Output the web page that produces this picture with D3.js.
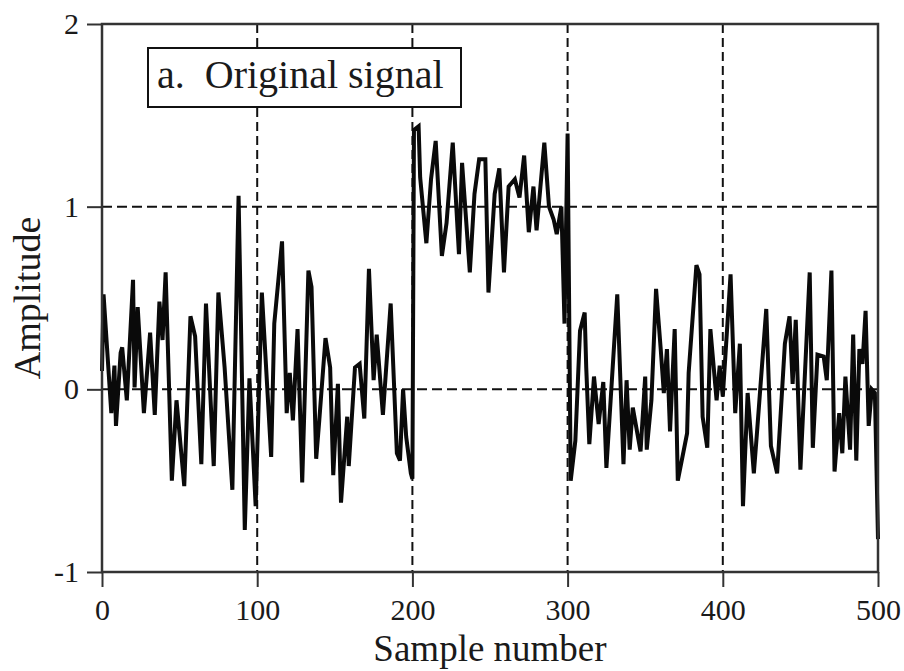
<!DOCTYPE html>
<html>
<head>
<meta charset="utf-8">
<script src="https://cdn.jsdelivr.net/npm/d3@7"></script>
<style>
  body { margin: 0; background: #fff; }
  svg { display: block; }
  text { font-family: "Liberation Serif", "Times New Roman", serif; fill: #1a1a1a; }
</style>
</head>
<body>
<div id="chart"></div>
<script>
// Signal vertices (sample number, amplitude)
const sampleIdx = [
    0, 1, 6, 8, 9, 12, 13, 16, 20, 21, 23, 27, 31, 34, 37, 39, 41, 45, 48, 53,
    57, 60, 64, 67, 72, 75, 79, 84, 88, 92, 95, 99, 103, 109, 111, 116, 119, 121, 123, 126,
    129, 133, 135, 138, 140, 144, 147, 149, 152, 154, 158, 159, 163, 166, 169, 172, 175, 177, 181, 186,
    190, 192, 194, 196, 199, 200, 201, 204, 205, 209, 212, 215, 219, 222, 226, 230, 232, 237, 240, 243,
    247, 249, 253, 256, 259, 262, 266, 269, 272, 275, 278, 280, 285, 288, 291, 293, 296, 298, 300, 302,
    305, 308, 311, 312, 314, 317, 320, 323, 325, 332, 336, 338, 340, 342, 347, 350, 351, 354, 357, 360,
    362, 364, 366, 369, 371, 377, 378, 383, 385, 387, 390, 392, 396, 398, 400, 405, 408, 411, 413, 416,
    420, 422, 428, 431, 435, 440, 443, 445, 447, 450, 456, 458, 461, 465, 467, 470, 472, 475, 477, 479,
    482, 484, 486, 488, 490, 492, 494, 496, 498, 500
];
const amplitude = [
    0.10, 0.52, -0.13, 0.13, -0.20, 0.20, 0.23, -0.06, 0.60, 0.01, 0.45, -0.13, 0.31, -0.14, 0.48, 0.27, 0.64, -0.50, -0.06, -0.53,
    0.40, 0.29, -0.41, 0.47, -0.42, 0.53, 0.12, -0.55, 1.06, -0.77, 0.06, -0.64, 0.53, -0.37, 0.36, 0.81, -0.13, 0.09, -0.17, 0.33,
    -0.51, 0.65, 0.56, -0.38, -0.17, 0.28, 0.12, -0.47, 0.03, -0.62, -0.15, -0.42, 0.12, 0.14, -0.16, 0.66, 0.05, 0.30, -0.14, 0.47,
    -0.35, -0.39, 0.00, -0.26, -0.46, -0.49, 1.42, 1.44, 1.16, 0.80, 1.15, 1.36, 0.73, 0.91, 1.35, 0.74, 1.24, 0.64, 1.07, 1.26,
    1.26, 0.53, 1.07, 1.21, 0.64, 1.11, 1.15, 1.05, 1.28, 0.86, 1.11, 0.87, 1.35, 1.00, 0.93, 0.85, 1.00, 0.36, 1.40, -0.50,
    -0.28, 0.32, 0.42, 0.12, -0.30, 0.07, -0.19, 0.04, -0.43, 0.52, -0.41, 0.05, -0.33, -0.10, -0.34, 0.07, -0.33, -0.06, 0.55, 0.22,
    -0.02, 0.22, -0.23, 0.33, -0.50, -0.24, 0.09, 0.68, 0.63, -0.15, -0.32, 0.33, -0.06, 0.13, -0.04, 0.63, -0.13, 0.25, -0.64, -0.02,
    -0.46, -0.24, 0.44, -0.31, -0.46, 0.25, 0.40, 0.03, 0.38, -0.44, 0.64, -0.32, 0.19, 0.18, 0.05, 0.65, -0.45, -0.13, -0.35, 0.07,
    -0.33, 0.30, -0.39, 0.22, 0.14, 0.43, -0.20, 0.00, -0.02, -0.82
];

const xTicks = [0, 100, 200, 300, 400, 500];
const yTicks = [-1, 0, 1, 2];
const xGrid = [100, 200, 300, 400];
const yGrid = [0, 1];
const titleText = 'a.  Original signal';

const W = 904, H = 671;

const svg = d3.select('#chart')
    .append('svg')
    .attr('width', W)
    .attr('height', H);

const x = d3.scaleLinear().domain([0, 500]).range([102, 878]);
const y = d3.scaleLinear().domain([-1, 2]).range([572, 24]);

// Dashed grid
svg.append('g')
    .selectAll('line')
    .data(xGrid)
    .enter()
    .append('line')
    .attr('x1', d => x(d)).attr('x2', d => x(d))
    .attr('y1', y(2)).attr('y2', y(-1))
    .attr('stroke', '#111')
    .attr('stroke-width', 2)
    .attr('stroke-dasharray', '9,5');

svg.append('g')
    .selectAll('line')
    .data(yGrid)
    .enter()
    .append('line')
    .attr('x1', x(0)).attr('x2', x(500))
    .attr('y1', d => y(d)).attr('y2', d => y(d))
    .attr('stroke', '#111')
    .attr('stroke-width', 2)
    .attr('stroke-dasharray', '10,5');

// Signal
const points = sampleIdx.map((s, i) => [s, amplitude[i]]);
const line = d3.line()
    .x(d => x(d[0]))
    .y(d => y(d[1]));

svg.append('path')
    .datum(points)
    .attr('d', line)
    .attr('fill', 'none')
    .attr('stroke', '#0a0a0a')
    .attr('stroke-width', 4)
    .attr('stroke-linejoin', 'miter')
    .attr('stroke-miterlimit', 3);

// Axes
const xAxis = d3.axisBottom(x)
    .tickValues(xTicks)
    .tickSize(15)
    .tickSizeOuter(0)
    .tickPadding(12)
    .tickFormat(d => String(d));

const yAxis = d3.axisLeft(y)
    .tickValues(yTicks)
    .tickSize(15)
    .tickSizeOuter(0)
    .tickPadding(8)
    .tickFormat(d => String(d));

const gx = svg.append('g')
    .attr('transform', `translate(0,${y(-1)})`)
    .call(xAxis);

const gy = svg.append('g')
    .attr('transform', `translate(${x(0)},0)`)
    .call(yAxis);

[gx, gy].forEach(g => {
    g.select('.domain').remove();
    g.selectAll('.tick line').attr('stroke', '#333').attr('stroke-width', 2);
    g.selectAll('.tick text')
        .attr('fill', '#1a1a1a')
        .style('font-family', '"Liberation Serif", serif')
        .style('font-size', '30px');
});

// Frame
svg.append('rect')
    .attr('x', x(0))
    .attr('y', y(2))
    .attr('width', x(500) - x(0))
    .attr('height', y(-1) - y(2))
    .attr('fill', 'none')
    .attr('stroke', '#333')
    .attr('stroke-width', 2.5);

// Axis titles
svg.append('text')
    .attr('x', (x(0) + x(500)) / 2)
    .attr('y', 661)
    .attr('text-anchor', 'middle')
    .style('font-size', '37px')
    .text('Sample number');

svg.append('text')
    .attr('transform', `translate(40,${(y(2) + y(-1)) / 2}) rotate(-90)`)
    .attr('text-anchor', 'middle')
    .style('font-size', '38px')
    .text('Amplitude');

// Title box
svg.append('rect')
    .attr('x', 148)
    .attr('y', 48)
    .attr('width', 313)
    .attr('height', 59)
    .attr('fill', '#fff')
    .attr('stroke', '#111')
    .attr('stroke-width', 2);

svg.append('text')
    .attr('x', 157)
    .attr('y', 88)
    .style('font-size', '40px')
    .style('white-space', 'pre')
    .attr('xml:space', 'preserve')
    .text(titleText);
</script>
</body>
</html>
